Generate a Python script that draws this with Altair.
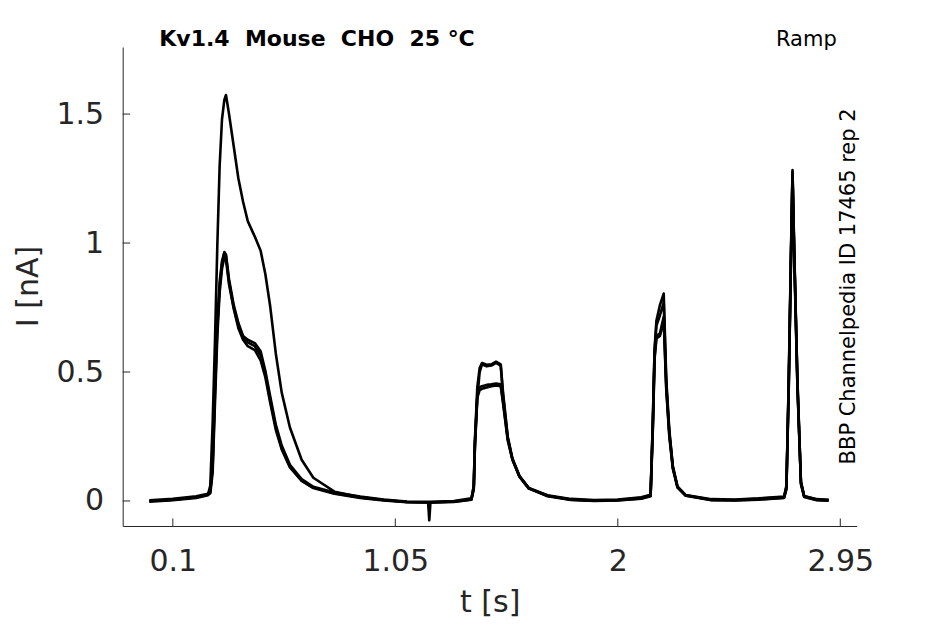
import altair as alt
import pandas as pd

# ---- data ----
t = [0.000, 0.100, 0.200, 0.250, 0.260, 0.270, 0.280, 0.290, 0.300, 0.310,
     0.320, 0.327, 0.340, 0.360, 0.380, 0.400, 0.420, 0.450, 0.475, 0.495,
     0.515, 0.540, 0.565, 0.600, 0.650, 0.700, 0.790, 0.900, 1.000, 1.100,
     1.190, 1.195, 1.200, 1.300, 1.375, 1.385, 1.390, 1.400, 1.410, 1.420,
     1.440, 1.460, 1.480, 1.500, 1.510, 1.530, 1.550, 1.580, 1.620, 1.700,
     1.800, 1.900, 2.000, 2.100, 2.140, 2.150, 2.157, 2.165, 2.180, 2.196,
     2.207, 2.220, 2.235, 2.255, 2.290, 2.400, 2.500, 2.600, 2.710, 2.720,
     2.730, 2.740, 2.746, 2.753, 2.767, 2.782, 2.796, 2.850, 2.900]

i_a = [0.000, 0.005, 0.015, 0.025, 0.060, 0.300, 0.620, 0.990, 1.300, 1.480,
       1.555, 1.574, 1.500, 1.375, 1.250, 1.160, 1.085, 1.025, 0.970, 0.880,
       0.760, 0.570, 0.420, 0.285, 0.160, 0.090, 0.036, 0.015, 0.004, -0.004,
       -0.006, -0.006, -0.006, -0.002, 0.008, 0.060, 0.240, 0.440, 0.515, 0.535,
       0.528, 0.530, 0.540, 0.530, 0.420, 0.250, 0.165, 0.098, 0.050, 0.020,
       0.006, 0.002, 0.004, 0.012, 0.022, 0.330, 0.590, 0.700, 0.760, 0.804,
       0.470, 0.275, 0.135, 0.056, 0.022, 0.005, 0.004, 0.008, 0.015, 0.060,
       0.480, 1.000, 1.283, 0.990, 0.470, 0.075, 0.018, 0.006, 0.004]

i_b = [-0.003, 0.003, 0.012, 0.022, 0.035, 0.130, 0.420, 0.670, 0.830, 0.920,
       0.960, 0.950, 0.850, 0.750, 0.680, 0.635, 0.615, 0.600, 0.565, 0.495,
       0.395, 0.285, 0.205, 0.135, 0.080, 0.052, 0.030, 0.014, 0.004, -0.004,
       -0.005, -0.075, -0.005, -0.003, 0.006, 0.050, 0.220, 0.400, 0.430, 0.435,
       0.440, 0.445, 0.448, 0.445, 0.380, 0.235, 0.160, 0.094, 0.048, 0.020,
       0.005, 0.001, 0.003, 0.010, 0.020, 0.300, 0.560, 0.640, 0.650, 0.714,
       0.440, 0.258, 0.128, 0.053, 0.021, 0.004, 0.003, 0.006, 0.013, 0.050,
       0.450, 0.970, 1.265, 0.970, 0.450, 0.068, 0.016, 0.004, 0.002]

i_c = [0.003, 0.008, 0.018, 0.028, 0.040, 0.150, 0.450, 0.690, 0.850, 0.930,
       0.965, 0.955, 0.860, 0.760, 0.690, 0.640, 0.625, 0.612, 0.580, 0.505,
       0.410, 0.295, 0.215, 0.140, 0.085, 0.055, 0.033, 0.017, 0.006, -0.002,
       -0.003, -0.003, -0.003, 0.000, 0.010, 0.055, 0.230, 0.410, 0.440, 0.445,
       0.450, 0.452, 0.455, 0.452, 0.385, 0.240, 0.162, 0.096, 0.050, 0.022,
       0.008, 0.004, 0.006, 0.014, 0.024, 0.320, 0.580, 0.680, 0.720, 0.770,
       0.455, 0.265, 0.132, 0.055, 0.023, 0.007, 0.006, 0.010, 0.017, 0.055,
       0.465, 0.985, 1.275, 0.980, 0.460, 0.072, 0.019, 0.007, 0.005]

i_d = [0.000, 0.005, 0.015, 0.025, 0.030, 0.110, 0.380, 0.640, 0.810, 0.900,
       0.945, 0.935, 0.840, 0.745, 0.670, 0.625, 0.600, 0.585, 0.545, 0.480,
       0.385, 0.275, 0.200, 0.130, 0.078, 0.050, 0.028, 0.012, 0.002, -0.005,
       -0.006, -0.006, -0.006, -0.004, 0.005, 0.045, 0.210, 0.395, 0.500, 0.530,
       0.522, 0.525, 0.535, 0.525, 0.410, 0.245, 0.163, 0.095, 0.049, 0.018,
       0.004, 0.000, 0.002, 0.009, 0.018, 0.290, 0.550, 0.630, 0.640, 0.700,
       0.430, 0.250, 0.125, 0.052, 0.020, 0.003, 0.002, 0.005, 0.012, 0.045,
       0.440, 0.960, 1.260, 0.960, 0.440, 0.065, 0.015, 0.003, 0.001]

traces = {"1": i_a, "2": i_b, "3": i_c, "4": i_d}

x_ticks = [0.1, 1.05, 2, 2.95]
y_ticks = [0, 0.5, 1, 1.5]

title_text = "Kv1.4\u00a0 Mouse\u00a0 CHO\u00a0 25 °C"
protocol_text = "Ramp"
side_text = "BBP Channelpedia ID 17465 rep 2"

# ---- layout ----
W, H = 734, 479
FONT = "DejaVu Sans"
AX = "#262626"

rows = []
for name, vals in traces.items():
    for tt, ii in zip(t, vals):
        rows.append({"trace": name, "t": tt, "I": ii})
df = pd.DataFrame(rows)

xscale = alt.Scale(domain=[-0.114, 3.02], nice=False, zero=False)
yscale = alt.Scale(domain=[-0.097, 1.76], nice=False, zero=False)

lines = alt.Chart(df).mark_line(color="black", strokeWidth=2.6, clip=True,
                                strokeJoin="round").encode(
    x=alt.X("t:Q", scale=xscale, title="t [s]",
            axis=alt.Axis(values=x_ticks, format=".3~g", ticks=False, tickSize=0,
                          grid=False, domainColor=AX, domainWidth=1,
                          labelFont=FONT, labelFontSize=30, labelColor=AX,
                          labelPadding=21,
                          titleFont=FONT, titleFontSize=30, titleColor=AX,
                          titleFontWeight="normal", titleBaseline="alphabetic",
                          titleY=86)),
    y=alt.Y("I:Q", scale=yscale, title="I [nA]",
            axis=alt.Axis(values=y_ticks, format=".3~g", ticks=False, tickSize=0,
                          grid=False, domainColor=AX, domainWidth=1,
                          labelFont=FONT, labelFontSize=30, labelColor=AX,
                          labelPadding=19,
                          titleFont=FONT, titleFontSize=30, titleColor=AX,
                          titleFontWeight="normal", titleBaseline="alphabetic",
                          titleAngle=270, titleAlign="center",
                          titleX=-85, titleY=239)),
    detail="trace:N",
)

xt = alt.Chart(pd.DataFrame({"v": x_ticks})).mark_rule(color=AX, strokeWidth=1).encode(
    x=alt.X("v:Q", scale=xscale), y=alt.value(H), y2=alt.value(H - 7.5))
yt = alt.Chart(pd.DataFrame({"v": y_ticks})).mark_rule(color=AX, strokeWidth=1).encode(
    y=alt.Y("v:Q", scale=yscale), x=alt.value(0), x2=alt.value(7.5))

title = alt.Chart(pd.DataFrame({"s": [title_text]})).mark_text(
    font=FONT, fontSize=22, fontWeight="bold", color="black",
    align="left", baseline="alphabetic").encode(
    text="s:N", x=alt.value(36.6), y=alt.value(-1))

ramp = alt.Chart(pd.DataFrame({"s": [protocol_text]})).mark_text(
    font=FONT, fontSize=21, color="black", align="left", baseline="alphabetic").encode(
    text="s:N", x=alt.value(653.3), y=alt.value(-1))

side = alt.Chart(pd.DataFrame({"s": [side_text]})).mark_text(
    font=FONT, fontSize=21, color="black", align="center", baseline="alphabetic",
    angle=270).encode(
    text="s:N", x=alt.value(732.6), y=alt.value(239.4))

chart = alt.layer(lines, xt, yt, title, ramp, side).properties(
    width=W, height=H,
    autosize=alt.AutoSizeParams(type="none"),
    padding={"left": 114.7, "top": 39, "right": 80, "bottom": 94},
    background="white",
).configure_view(stroke="transparent")

chart.save("out.html", embed_options={"renderer": "svg", "actions": False})
